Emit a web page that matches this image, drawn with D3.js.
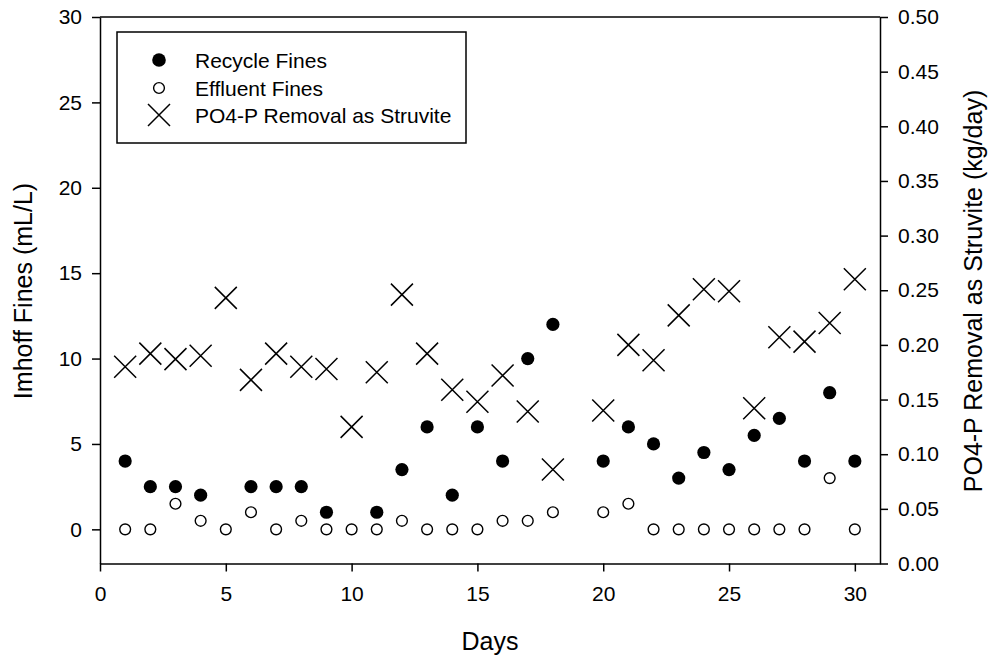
<!DOCTYPE html>
<html>
<head>
<meta charset="utf-8">
<script src="https://cdn.jsdelivr.net/npm/d3@7"></script>
<style>
  html, body { margin: 0; padding: 0; background: #fff; }
  svg { display: block; font-family: "Liberation Sans", Arial, sans-serif; }
</style>
</head>
<body>
<svg id="chart" width="992" height="660"></svg>
<script>
const days = [1,2,3,4,5,6,7,8,9,10,11,12,13,14,15,16,17,18,19,20,21,22,23,24,25,26,27,28,29,30];
const recycleFines = [4,2.5,2.5,2,null,2.5,2.5,2.5,1,null,1,3.5,6,2,6,4,10,12,null,4,6,5,3,4.5,3.5,5.5,6.5,4,8,4];
const effluentFines = [0,0,1.5,0.5,0,1,0,0.5,0,0,0,0.5,0,0,0,0.5,0.5,1,null,1,1.5,0,0,0,0,0,0,0,3,0];
const struvite = [0.180,0.192,0.187,0.190,0.243,0.168,0.192,0.180,0.178,0.125,0.175,0.246,0.192,0.159,0.148,0.172,0.139,0.086,null,0.140,0.200,0.186,0.227,0.251,0.249,0.142,0.207,0.203,0.220,0.260];
const xTicks = [0,5,10,15,20,25,30];
const leftTicks = [0,5,10,15,20,25,30];
const rightTicks = [0,0.05,0.10,0.15,0.20,0.25,0.30,0.35,0.40,0.45,0.50];
const legendLabels = ["Recycle Fines","Effluent Fines","PO4-P Removal as Struvite"];

const svg = d3.select("#chart");
const L = 100, R = 880, T = 17, B = 563.5;
const x = d3.scaleLinear().domain([0,31]).range([L,R]);
const yL = d3.scaleLinear().domain([-2,30]).range([B,T]);
const yR = d3.scaleLinear().domain([0,0.5]).range([B,T]);

const tickFont = "21px";

function styleAxis(g){
  g.selectAll(".domain").attr("stroke","#000").attr("stroke-width",1.5);
  g.selectAll(".tick line").attr("stroke","#000").attr("stroke-width",1.5);
  g.selectAll(".tick text").attr("fill","#000").style("font-size",tickFont).style("font-family","'Liberation Sans', Arial, sans-serif");
}

// top frame line
svg.append("line").attr("x1",L).attr("x2",R).attr("y1",T).attr("y2",T)
  .attr("stroke","#000").attr("stroke-width",1.5);

svg.append("g").attr("transform",`translate(0,${B})`)
  .call(d3.axisBottom(x).tickValues(xTicks).tickSize(8).tickPadding(15).tickSizeOuter(0))
  .call(styleAxis);

svg.append("g").attr("transform",`translate(${L},0)`)
  .call(d3.axisLeft(yL).tickValues(leftTicks).tickSize(8).tickPadding(10).tickSizeOuter(0))
  .call(styleAxis);

svg.append("g").attr("transform",`translate(${R},0)`)
  .call(d3.axisRight(yR).tickValues(rightTicks).tickFormat(d3.format(".2f")).tickSize(8).tickPadding(10).tickSizeOuter(0))
  .call(styleAxis);

// axis titles
svg.append("text").attr("x",490).attr("y",650).attr("text-anchor","middle")
  .style("font-size","25px").text("Days");
svg.append("text").attr("transform","translate(32,291) rotate(-90)").attr("text-anchor","middle")
  .style("font-size","25px").text("Imhoff Fines (mL/L)");
svg.append("text").attr("transform","translate(982,291) rotate(-90)").attr("text-anchor","middle")
  .style("font-size","25px").text("PO4-P Removal as Struvite (kg/day)");

const rows = days.map((d,i)=>({day:d, rec:recycleFines[i], eff:effluentFines[i], str:struvite[i]}));
const xr = 11;
function xPath(s){ return `M${-s},${-s}L${s},${s}M${-s},${s}L${s},${-s}`; }

// recycle fines (filled)
svg.append("g").selectAll("circle").data(rows.filter(r=>r.rec!=null)).join("circle")
  .attr("cx",d=>x(d.day)).attr("cy",d=>yL(d.rec)).attr("r",6.6).attr("fill","#000");

// effluent fines (open)
svg.append("g").selectAll("circle").data(rows.filter(r=>r.eff!=null)).join("circle")
  .attr("cx",d=>x(d.day)).attr("cy",d=>yL(d.eff)).attr("r",5.4)
  .attr("fill","#fff").attr("stroke","#000").attr("stroke-width",1.4);

// struvite X
svg.append("g").selectAll("path").data(rows.filter(r=>r.str!=null)).join("path")
  .attr("transform",d=>`translate(${x(d.day)},${yR(d.str)})`)
  .attr("d",xPath(xr)).attr("stroke","#000").attr("stroke-width",1.5).attr("fill","none");

// legend
const lg = svg.append("g");
lg.append("rect").attr("x",117).attr("y",32).attr("width",349).attr("height",111)
  .attr("fill","#fff").attr("stroke","#000").attr("stroke-width",1.5);
const rowY = [60, 88, 115];
lg.append("circle").attr("cx",159).attr("cy",rowY[0]).attr("r",6.8).attr("fill","#000");
lg.append("circle").attr("cx",159).attr("cy",rowY[1]).attr("r",5.4).attr("fill","#fff").attr("stroke","#000").attr("stroke-width",1.4);
lg.append("path").attr("transform",`translate(159,${rowY[2]})`).attr("d",xPath(xr)).attr("stroke","#000").attr("stroke-width",1.5);
lg.selectAll("text.lbl").data(legendLabels).join("text").attr("class","lbl")
  .attr("x",195).attr("y",(d,i)=>rowY[i]+7.5).style("font-size","21px").text(d=>d);
</script>
</body>
</html>
